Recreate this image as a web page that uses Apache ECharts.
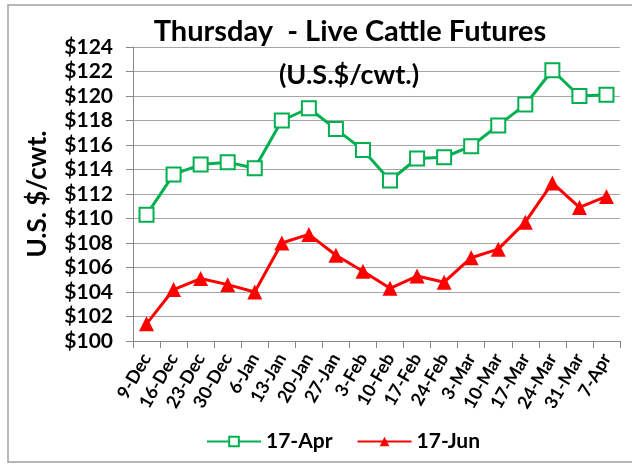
<!DOCTYPE html>
<html><head><meta charset="utf-8">
<script src="https://cdn.jsdelivr.net/npm/echarts@6/dist/echarts.min.js"></script>
<style>html,body{margin:0;padding:0;background:#fff}#c{width:632px;height:467px}</style>
</head><body><div id="c"></div>
<script>
const categories = ['9-Dec','16-Dec','23-Dec','30-Dec','6-Jan','13-Jan','20-Jan','27-Jan','3-Feb','10-Feb','17-Feb','24-Feb','3-Mar','10-Mar','17-Mar','24-Mar','31-Mar','7-Apr'];
const apr17 = [110.3,113.6,114.4,114.6,114.1,118.0,119.0,117.3,115.6,113.1,114.9,115.0,115.9,117.6,119.3,122.1,120.0,120.1];
const jun17 = [101.4,104.2,105.1,104.6,104.0,108.0,108.7,107.0,105.7,104.3,105.3,104.8,106.8,107.5,109.7,112.9,110.9,111.8];
const seriesNames = ['17-Apr','17-Jun'];
const FONT = 'Lato';
const chart = echarts.init(document.getElementById('c'));
chart.setOption({
  animation:false,
  textStyle:{fontFamily:FONT},
  title:[
    {text:'Thursday  - Live Cattle Futures',left:345,top:12,textAlign:'center',textStyle:{fontFamily:FONT,fontSize:29,fontWeight:'bold',color:'#000'}},
    {text:'(U.S.$/cwt.)',left:344,top:57,textAlign:'center',textStyle:{fontFamily:FONT,fontSize:27,fontWeight:'bold',color:'#000'}}
  ],
  graphic:[
    {type:'rect',shape:{x:8,y:5,width:640,height:457},style:{fill:'none',stroke:'#a0a0a0',lineWidth:1.5},silent:true}
  ],
  legend:{bottom:10,left:201,itemWidth:54,itemHeight:12,itemGap:24,
    textStyle:{fontFamily:FONT,fontSize:21,fontWeight:'bold',color:'#000'},
    data:seriesNames},
  grid:{left:133,right:12,top:47,bottom:126},
  xAxis:{type:'category',data:categories,boundaryGap:true,
    axisLine:{lineStyle:{color:'#888',width:1}},
    axisTick:{show:true,length:7,lineStyle:{color:'#888'},alignWithLabel:false},
    axisLabel:{rotate:60,interval:0,fontFamily:FONT,fontSize:18,fontWeight:'bold',color:'#000',margin:14}},
  yAxis:{type:'value',min:100,max:124,interval:2,
    name:'U.S. $/cwt.',nameLocation:'middle',nameGap:82,nameRotate:90,
    nameTextStyle:{fontFamily:FONT,fontSize:26,fontWeight:'bold',color:'#000'},
    axisLine:{show:true,lineStyle:{color:'#888'}},
    axisTick:{show:true,length:7,lineStyle:{color:'#888'}},
    splitLine:{lineStyle:{color:'#a6a6a6',width:1}},
    axisLabel:{formatter:v=>'$'+v,fontFamily:FONT,fontSize:21,fontWeight:'bold',color:'#000',margin:20}},
  series:[
    {name:seriesNames[0],type:'line',data:apr17,symbol:'rect',symbolSize:14,
     lineStyle:{color:'#00B050',width:3},
     itemStyle:{color:'#fff',borderColor:'#00B050',borderWidth:2}},
    {name:seriesNames[1],type:'line',data:jun17,symbol:'triangle',symbolSize:15,
     lineStyle:{color:'#FF0000',width:3},
     itemStyle:{color:'#FF0000',borderColor:'#FF0000',borderWidth:0}}
  ]
});
</script></body></html>
